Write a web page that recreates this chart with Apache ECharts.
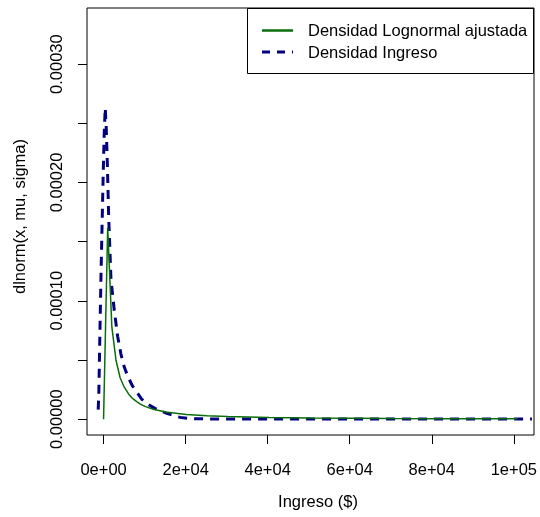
<!DOCTYPE html>
<html>
<head>
<meta charset="utf-8">
<script src="https://cdn.jsdelivr.net/npm/echarts@6/dist/echarts.min.js"></script>
<style>html,body{margin:0;padding:0;background:#fff}#c{width:540px;height:517px}</style>
</head>
<body>
<div id="c"></div>
<script>
// Lognormal fitted density (green, solid)
var xGreen = [0, 1000, 2000, 3000, 4000, 5000, 6000, 7000, 8000, 9000, 10000, 12000, 15000, 20000, 25000, 30000, 40000, 50000, 60000, 70000, 80000, 90000, 100000];
var yGreen = [0, 0.000162, 0.000078, 0.000050, 0.000035, 0.0000270, 0.0000215, 0.0000175, 0.0000148, 0.0000125, 0.0000108, 0.0000084, 0.0000061, 0.0000040, 0.0000029, 0.0000022, 0.0000014, 0.0000009, 0.0000007, 0.0000005, 0.0000004, 0.0000003, 0.0000003];
// Empirical income density (blue, dashed)
var xBlue = [-1300, -1150, -870, -600, -350, -100, 150, 400, 650, 900, 1230, 1790, 2590, 3400, 4200, 5000, 6000, 7000, 8000, 9200, 10500, 12400, 14000, 15300, 17000, 18500, 20500, 22500, 25000, 30000, 40000, 50000, 60000, 70000, 80000, 90000, 100000, 103500];
var yBlue = [0.000008, 0.000020, 0.000075, 0.000125, 0.000165, 0.000205, 0.000240, 0.000263, 0.000246, 0.000218, 0.000172, 0.000118, 0.000092, 0.000070, 0.000055, 0.000044, 0.000035, 0.000028, 0.000023, 0.000017, 0.000013, 0.0000091, 0.0000066, 0.0000049, 0.0000030, 0.0000015, 0.0000007, 0.0000003, 0.0000002, 0.0000002, 0.0000002, 0.0000002, 0.0000002, 0.0000002, 0.0000002, 0.0000002, 0.0000002, 0.0000002];
var xTickVals = [0, 20000, 40000, 60000, 80000, 100000];
var xTickLabels = ['0e+00', '2e+04', '4e+04', '6e+04', '8e+04', '1e+05'];
var legendLabels = ['Densidad Lognormal ajustada', 'Densidad Ingreso'];
var xTitle = 'Ingreso ($)';
var yTitle = 'dlnorm(x, mu, sigma)';

var FONT = 'Liberation Sans, Arial, sans-serif';
var FS = 16.5;
function zip(a, b) { return a.map(function (v, i) { return [v, b[i]]; }); }

var chart = echarts.init(document.getElementById('c'), null, {renderer: 'canvas'});
chart.setOption({
  animation: false,
  backgroundColor: '#fff',
  grid: [
    {left: 87, right: 6, top: 8, bottom: 82, show: true, borderColor: '#000', borderWidth: 1, backgroundColor: 'transparent'},
    {left: 103.6, right: 22.5, top: 8, bottom: 82},
    {left: 87, right: 6, top: 64.1, bottom: 97.9}
  ],
  xAxis: [
    {gridIndex: 0, type: 'value', min: -4000, max: 104000,
     axisLine: {show: false}, axisTick: {show: false}, axisLabel: {show: false}, splitLine: {show: false},
     name: xTitle, nameLocation: 'middle', nameGap: 59,
     nameTextStyle: {fontFamily: FONT, fontSize: FS, color: '#000', padding: [0, 0, 0, 15]}},
    {gridIndex: 1, type: 'value', min: 0, max: 100000, interval: 20000, position: 'bottom', offset: 2.5,
     axisLine: {show: false}, splitLine: {show: false},
     axisTick: {show: true, length: 9, lineStyle: {color: '#000', width: 1}},
     axisLabel: {fontFamily: FONT, fontSize: FS, color: '#000', margin: 24, showMinLabel: true, showMaxLabel: true,
       formatter: function (v) { var i = xTickVals.indexOf(v); return i >= 0 ? xTickLabels[i] : ''; }}},
    {gridIndex: 2, type: 'value', show: false}
  ],
  yAxis: [
    {gridIndex: 0, type: 'value', min: -0.0000134, max: 0.0003474,
     axisLine: {show: false}, axisTick: {show: false}, axisLabel: {show: false}, splitLine: {show: false},
     name: yTitle, nameLocation: 'middle', nameRotate: 90, nameGap: 58,
     nameTextStyle: {fontFamily: FONT, fontSize: FS, color: '#000', padding: [0, 0, 0, 10]}},
    {gridIndex: 1, type: 'value', show: false},
    {gridIndex: 2, type: 'value', min: 0, max: 0.0003, interval: 0.00005, position: 'left', offset: 2.5,
     axisLine: {show: false}, splitLine: {show: false},
     axisTick: {show: true, length: 9, lineStyle: {color: '#000', width: 1}},
     axisLabel: {fontFamily: FONT, fontSize: FS, color: '#000', margin: 19, rotate: 90,
       align: 'center', verticalAlign: 'bottom', showMinLabel: true, showMaxLabel: true,
       formatter: function (v) { var k = Math.round(v / 0.00005); return k % 2 === 0 ? (k * 0.00005).toFixed(5) : ''; }}}
  ],
  series: [
    {type: 'line', xAxisIndex: 0, yAxisIndex: 0, data: zip(xGreen, yGreen), showSymbol: false, smooth: false,
     lineStyle: {color: '#0a6e0a', width: 1.5}, z: 3},
    {type: 'line', xAxisIndex: 0, yAxisIndex: 0, data: zip(xBlue, yBlue), showSymbol: false, smooth: false,
     lineStyle: {color: '#000080', width: 3, type: [9, 7], cap: 'butt'}, z: 2}
  ],
  graphic: [
    {type: 'rect', shape: {x: 247.5, y: 8.5, width: 286, height: 65}, style: {fill: '#fff', stroke: '#000', lineWidth: 1}, z: 10},
    {type: 'line', shape: {x1: 262, y1: 30.5, x2: 293, y2: 30.5}, style: {stroke: '#0a6e0a', lineWidth: 2.5}, z: 11},
    {type: 'line', shape: {x1: 262, y1: 52, x2: 293, y2: 52}, style: {stroke: '#000080', lineWidth: 3, lineDash: [8, 7]}, z: 11},
    {type: 'text', x: 308, y: 31, style: {text: legendLabels[0], font: FS + 'px ' + FONT, fill: '#000', textVerticalAlign: 'middle', verticalAlign: 'middle'}, z: 11},
    {type: 'text', x: 308, y: 53, style: {text: legendLabels[1], font: FS + 'px ' + FONT, fill: '#000', textVerticalAlign: 'middle', verticalAlign: 'middle'}, z: 11}
  ]
});
</script>
</body>
</html>
